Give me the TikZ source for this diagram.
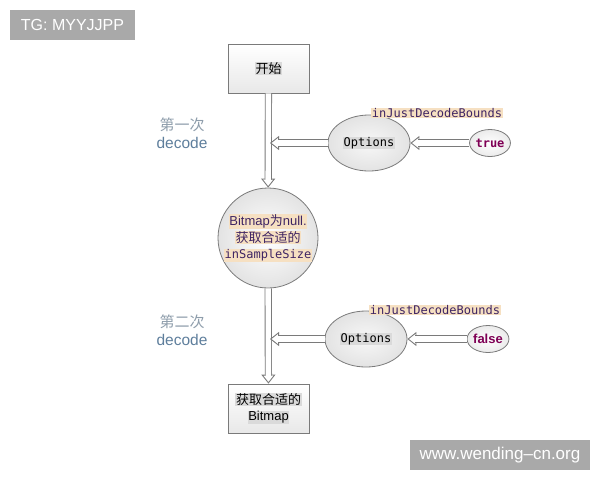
\documentclass[tikz,border=0pt]{standalone}
\usepackage{fontspec}
\setmainfont{Liberation Sans}
\setmonofont{DejaVu Sans Mono}
\newfontfamily\cjk{Noto Sans CJK SC}
\usetikzlibrary{shapes.geometric, arrows.meta}
\definecolor{hltan}{HTML}{F6E0C2}
\definecolor{hlgray}{HTML}{DADADA}
\definecolor{codetxt}{HTML}{3E2463}
\definecolor{kwd}{HTML}{7F0055}
\definecolor{lblgray}{HTML}{8E9DAB}
\definecolor{lblblue}{HTML}{5E7E9C}
\definecolor{edgecol}{HTML}{7A7A7A}
\definecolor{wm}{HTML}{A9A9A9}
\newcommand\hlg[1]{{\setlength{\fboxsep}{0.6pt}\colorbox{hlgray}{#1}}}
\newcommand\hlt[1]{{\setlength{\fboxsep}{0.6pt}\colorbox{hltan}{#1}}}
\newcommand\hollowarrow[2]{%
  \draw[headline] (#1) -- (#2);
  \draw[shaftout] (#1) -- (#2);
  \draw[shaftin] (#1) -- (#2);}
\tikzset{
  headline/.style={draw=white, line width=0.1pt,
    -{Triangle[color=edgecol, fill=white, length=9pt, width=14pt, line width=0.9pt]}},
  shaftout/.style={draw=edgecol, line width=7.2pt, shorten >=8pt},
  shaftin/.style={draw=white, line width=5.4pt, shorten >=7.5pt},
  boxnode/.style={draw=edgecol, line width=0.8pt, minimum width=81pt, minimum height=49pt,
    inner sep=0pt, top color=white, bottom color=black!9, align=center,
    font=\fontsize{13}{16}\selectfont},
  optnode/.style={ellipse, draw=edgecol, line width=0.8pt, minimum width=82pt, minimum height=56pt,
    inner sep=0pt, inner color=black!3, outer color=black!11,
    font=\ttfamily\fontsize{12}{14}\selectfont},
  valnode/.style={ellipse, draw=edgecol, line width=0.8pt, minimum width=39pt, minimum height=27pt,
    inner sep=0pt, inner color=white, outer color=black!8, text=kwd},
  codelbl/.style={inner sep=0.6pt, fill=hltan, text=codetxt, font=\ttfamily\fontsize{12}{14}\selectfont},
  sidelbl/.style={inner sep=0pt, align=center},
  wmnode/.style={fill=wm, text=white, inner sep=0pt, font=\fontsize{16}{18}\selectfont}
}
\begin{document}
\begin{tikzpicture}[x=1pt, y=-1pt]
\useasboundingbox (0,0) rectangle (600,480);
% watermarks
\node[wmnode, minimum width=125pt, minimum height=30pt] (tg) at (72.5,25) {TG: MYYJJPP};
\node[wmnode, minimum width=180pt, minimum height=30pt, font=\fontsize{17}{19}\selectfont] (www) at (500,455) {www.wending–cn.org};
% main nodes
\node[boxnode] (start) at (268.5,68.5) {\hlg{\cjk 开始}};
\node[circle, draw=edgecol, line width=0.8pt, minimum size=94pt, inner sep=0pt,
  inner color=white, outer color=black!11, align=center, text=codetxt,
  font=\fontsize{13}{16.5}\selectfont] (circ) at (268,238)
  {\hlt{Bitmap{\cjk 为}null.}\\\hlt{\cjk 获取合适的}\\\hlt{\ttfamily\fontsize{12}{14}\selectfont inSampleSize}};
\node[boxnode] (end) at (268.5,408.5) {\hlg{\cjk 获取合适的}\\\hlg{Bitmap}};
% first decode
\node[optnode] (opt1) at (369,143) {\hlg{Options}};
\node[valnode, font=\ttfamily\bfseries\fontsize{12}{14}\selectfont] (true) at (490,143) {true};
\node[codelbl] (ijdb1) at (437,113) {inJustDecodeBounds};
\coordinate (j1) at (270,143);
% second decode
\node[optnode] (opt2) at (366,339) {\hlg{Options}};
\node[valnode, font=\bfseries\fontsize{13}{15}\selectfont] (false) at (488,339) {false};
\node[codelbl] (ijdb2) at (435,310) {inJustDecodeBounds};
\coordinate (j2) at (270,339);
% side labels
\node[sidelbl, text=lblgray, font=\cjk\fontsize{15}{17}\selectfont] (l1a) at (182,125) {第一次};
\node[sidelbl, text=lblblue, font=\fontsize{15.5}{17}\selectfont] (l1b) at (182,143) {decode};
\node[sidelbl, text=lblgray, font=\cjk\fontsize{15}{17}\selectfont] (l2a) at (182,322) {第二次};
\node[sidelbl, text=lblblue, font=\fontsize{15.5}{17}\selectfont] (l2b) at (182,340) {decode};
% connectors
\hollowarrow{start}{circ}
\hollowarrow{circ}{end}
\hollowarrow{opt1}{j1}
\hollowarrow{true}{opt1}
\hollowarrow{opt2}{j2}
\hollowarrow{false}{opt2}
\end{tikzpicture}
\end{document}
